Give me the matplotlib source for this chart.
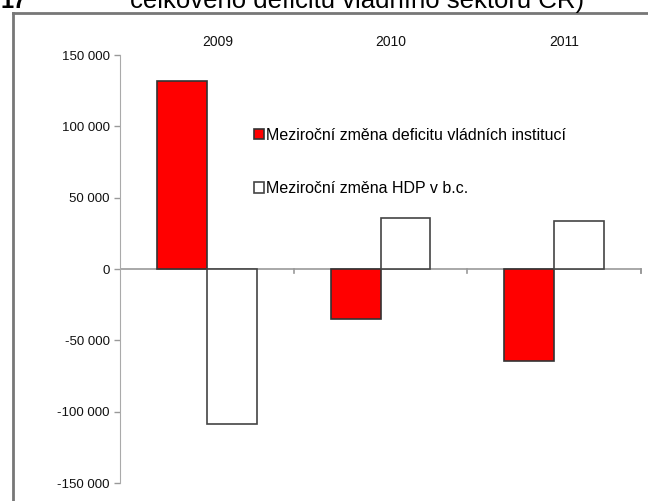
import matplotlib.pyplot as plt
import matplotlib.lines as mlines
import numpy as np
from matplotlib.ticker import FuncFormatter

plt.rcParams['font.family'] = ['Liberation Sans', 'DejaVu Sans']

years = ['2009', '2010', '2011']
deficit_change = [132000, -35000, -64300]
hdp_change = [-108600, 36000, 33600]

lbl_deficit = 'Meziroční změna deficitu vládních institucí'
lbl_hdp = 'Meziroční změna HDP v b.c.'

fig = plt.figure(figsize=(6.48, 5.01), dpi=100)
ax = fig.add_axes([120 / 648, 18 / 501, 521 / 648, 428 / 501])

x = np.arange(len(years))
w = 0.287
ax.bar(x - w / 2, deficit_change, w, color='#ff0000', edgecolor='#333333', linewidth=1.2,
       label=lbl_deficit, zorder=3)
ax.bar(x + w / 2, hdp_change, w, color='white', edgecolor='#444444', linewidth=1.2,
       label=lbl_hdp, zorder=3)

ax.set_xlim(-0.5, len(years) - 0.5)
ax.set_ylim(-150000, 150000)
ax.set_yticks(np.arange(-150000, 150001, 50000))
ax.yaxis.set_major_formatter(FuncFormatter(lambda v, p: '{:,.0f}'.format(v).replace(',', ' ')))
ax.tick_params(axis='y', labelsize=9.5, colors='#999999', labelcolor='#111111', length=4, width=1)

for s in ['top', 'right', 'bottom']:
    ax.spines[s].set_visible(False)
ax.spines['left'].set_color('#aaaaaa')

# horizontal axis through zero with category separators
ax.axhline(0, color='#999999', lw=1.2, zorder=2)
ax.set_xticks([])
for b in np.arange(0.5, len(years), 1.0):
    ax.plot([b, b], [0, -3000], color='#999999', lw=1.2, clip_on=False, zorder=2)
ax.plot([len(years) - 0.5] * 2, [0, -3000], color='#999999', lw=1.2, clip_on=False, zorder=2)

for i, y in enumerate(years):
    ax.text(i + 0.06, 159000, y, ha='center', va='center', fontsize=10, color='#111111')

leg = ax.legend(loc='upper left', bbox_to_anchor=(0.245, 0.845), frameon=False, fontsize=11.5,
                handlelength=0.6, handleheight=0.6, handletextpad=0.15, labelspacing=2.4,
                borderaxespad=0)

# document frame and cut-off caption
fig.add_artist(mlines.Line2D([13 / 648, 13 / 648], [0, 1 - 13 / 501], color='#777777', lw=2))
fig.add_artist(mlines.Line2D([13 / 648, 1], [1 - 13 / 501, 1 - 13 / 501], color='#777777', lw=2))
fig.text(0.0, 1 - 8 / 501, '17', fontsize=17, fontweight='bold', va='baseline')
fig.text(130 / 648, 1 - 8 / 501, 'celkového deficitu vládního sektoru ČR)', fontsize=18.5, va='baseline')

fig.savefig('out.png', dpi=100)
